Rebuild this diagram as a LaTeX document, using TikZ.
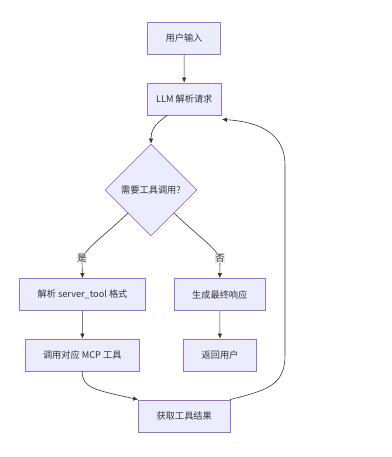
\documentclass[tikz,border=0pt]{standalone}
\usepackage{fontspec}
\setmainfont{Noto Sans CJK SC}
\usetikzlibrary{shapes.geometric,arrows.meta}
\definecolor{nodefill}{HTML}{ECECFF}
\definecolor{nodeborder}{HTML}{9370DB}
\definecolor{linecol}{HTML}{333333}
\definecolor{labelbg}{HTML}{E8E8E8}
\begin{document}
\begin{tikzpicture}[x=1pt,y=-1pt,
  base/.style={draw=nodeborder,fill=nodefill,line width=0.8pt,text=linecol,font=\fontsize{9.2}{11}\selectfont,inner sep=0pt},
  box/.style={base,rectangle,minimum height=32pt},
  dia/.style={base,diamond,minimum width=92pt,minimum height=92pt},
  conn/.style={draw=linecol,line width=0.6pt,-{Latex[length=5pt,width=4.5pt]}},
  elabel/.style={fill=labelbg,text=linecol,font=\fontsize{9.2}{11}\selectfont,inner sep=0.8pt}]
\useasboundingbox (0,0) rectangle (391,457);
\node[box,minimum width=73pt] (input) at (184,38) {用户输入};
\node[box,minimum width=73.5pt] (llm) at (184.25,99) {LLM 解析请求};
\node[dia] (dec) at (151,190) {需要工具调用?};
\node[box,minimum width=126pt] (parse) at (82.5,294.5) {解析 server\_tool 格式};
\node[box,minimum width=91.5pt] (gen) at (219.75,294.5) {生成最终响应};
\node[box,minimum width=114.5pt] (call) at (82.25,355) {调用对应 MCP 工具};
\node[box,minimum width=73pt] (ret) at (220,355) {返回用户};
\node[box,minimum width=91.5pt] (get) at (184.25,416) {获取工具结果};
\coordinate (dl) at (128,213);
\coordinate (dr) at (174,213);
\draw[conn] (input) -- (llm);
\draw[conn] ([xshift=-17pt]llm.south) .. controls (153,125) and (151,132) .. (dec.north);
\draw[conn] (dl) .. controls (100,240) and (82,250) .. (82,262) -- (parse.north);
\node[elabel] (yes) at (82,258) {是};
\draw[conn] (dr) .. controls (202,240) and (220,250) .. (220,262) -- (gen.north);
\node[elabel] (no) at (220,258) {否};
\draw[conn] (parse) -- (call);
\draw[conn] (gen) -- (ret);
\draw[conn] (call.south) .. controls (82,388) and (95,390) .. (get.north west);
\draw[conn] ([xshift=-0.5pt]get.north east) .. controls (268,390) and (285,385) .. (285,355) -- (285,165) .. controls (285,135) and (262,122) .. ([xshift=0.5pt,yshift=-4pt]llm.south east);
\end{tikzpicture}
\end{document}
